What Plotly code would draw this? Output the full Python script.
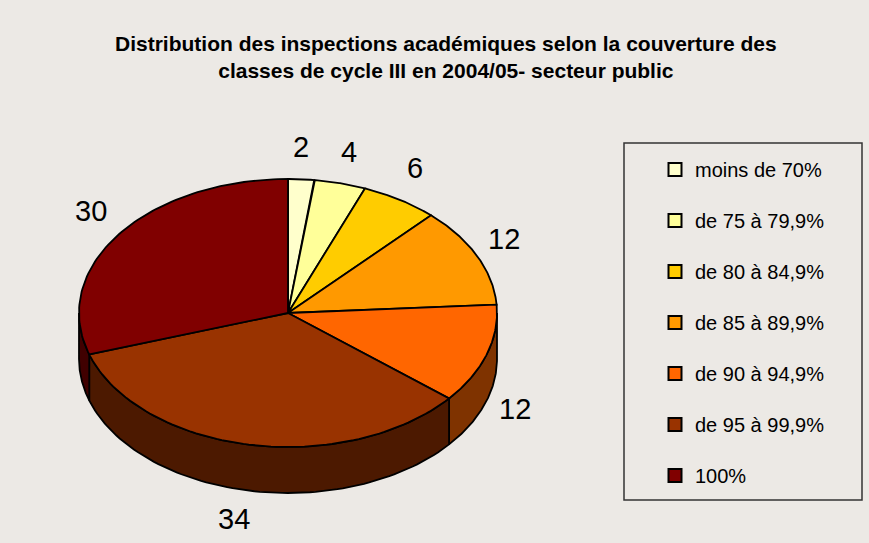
import math
import plotly.graph_objects as go

# ---- data ----
categories = ["moins de 70%", "de 75 à 79,9%", "de 80 à 84,9%", "de 85 à 89,9%",
              "de 90 à 94,9%", "de 95 à 99,9%", "100%"]
values = [2, 4, 6, 12, 12, 34, 30]
top_colors = ["#FFFFCC", "#FFFF99", "#FFCC00", "#FF9900", "#FF6600", "#993300", "#800000"]

title_text = ("<b>Distribution des inspections académiques selon la couverture des<br>"
              "classes de cycle III en 2004/05- secteur public</b>")

# ---- geometry / style ----
W, H = 869, 543
BG = "#ECE9E5"
cx, cy, rx, ry, depth = 288, 313, 209, 134, 46
label_pad = 35
label_nudge = [(-2, 3), (0, 3), (-4, -2), (-5, -2), (-5, -2), (-8, -6), (0, -3)]


def darker(hexc, f=0.5):
    r, g, b = (int(hexc[i:i + 2], 16) for i in (1, 3, 5))
    return "#%02X%02X%02X" % (int(r * f), int(g * f), int(b * f))


def pt(t, dy=0.0, kx=0.0, ky=0.0):
    return cx + (rx + kx) * math.sin(t), cy - (ry + ky) * math.cos(t) + dy


def arc(a, b, dy=0.0, n=80):
    xs, ys = [], []
    for i in range(n + 1):
        t = a + (b - a) * i / n
        x, y = pt(t, dy)
        xs.append(x)
        ys.append(y)
    return xs, ys


total = sum(values)
angles = [0.0]
for v in values:
    angles.append(angles[-1] + 2 * math.pi * v / total)

fig = go.Figure()
LW = 1.8

# sides (visible between 90° and 270°)
for i, v in enumerate(values):
    a, b = angles[i], angles[i + 1]
    s, e = max(a, math.pi / 2), min(b, 3 * math.pi / 2)
    if s >= e:
        continue
    x1, y1 = arc(s, e)
    x2, y2 = arc(e, s, depth)
    fig.add_trace(go.Scatter(x=x1 + x2 + [x1[0]], y=y1 + y2 + [y1[0]], mode="lines",
                             fill="toself", fillcolor=darker(top_colors[i]),
                             line=dict(color="black", width=LW),
                             showlegend=False, hoverinfo="skip"))

# top faces
for i, v in enumerate(values):
    a, b = angles[i], angles[i + 1]
    xs, ys = arc(a, b)
    fig.add_trace(go.Scatter(x=[cx] + xs + [cx], y=[cy] + ys + [cy], mode="lines",
                             fill="toself", fillcolor=top_colors[i],
                             line=dict(color="black", width=LW),
                             showlegend=False, hoverinfo="text",
                             text=f"{categories[i]}: {v}"))

# legend entries
for i, c in enumerate(categories):
    fig.add_trace(go.Scatter(x=[None], y=[None], mode="markers", name=c,
                             legendgroup=f"g{i}",
                             marker=dict(symbol="square", size=13, color=top_colors[i],
                                         line=dict(color="black", width=2))))

# data labels
for i, v in enumerate(values):
    m = (angles[i] + angles[i + 1]) / 2
    dy = depth if math.cos(m) < 0 else 0
    x, y = pt(m, dy, label_pad, label_pad)
    x += label_nudge[i][0]
    y += label_nudge[i][1]
    fig.add_annotation(x=x, y=y, text=str(v), showarrow=False,
                       font=dict(size=29, color="black", family="Liberation Sans, Arial"),
                       xanchor="center", yanchor="middle")

fig.add_annotation(x=446, y=57, text=title_text, showarrow=False,
                   font=dict(size=21, color="black", family="Liberation Sans, Arial"),
                   xanchor="center", yanchor="middle")

# legend box
fig.add_shape(type="rect", x0=624, x1=862, y0=143, y1=500,
              line=dict(color="#333333", width=1.5), fillcolor="rgba(0,0,0,0)", layer="below")

fig.update_layout(
    width=W, height=H, margin=dict(l=0, r=0, t=0, b=0),
    paper_bgcolor=BG, plot_bgcolor=BG,
    xaxis=dict(range=[0, W], visible=False, fixedrange=True),
    yaxis=dict(range=[H, 0], visible=False, fixedrange=True),
    showlegend=True,
    legend=dict(x=655 / W, y=1 - 150 / H, xanchor="left", yanchor="top",
                bgcolor="rgba(0,0,0,0)", borderwidth=0, tracegroupgap=22,
                font=dict(size=20, color="black", family="Liberation Sans, Arial")),
)

fig.write_html("out.html", config={"displayModeBar": False},
               post_script="document.body.style.margin='0';")
